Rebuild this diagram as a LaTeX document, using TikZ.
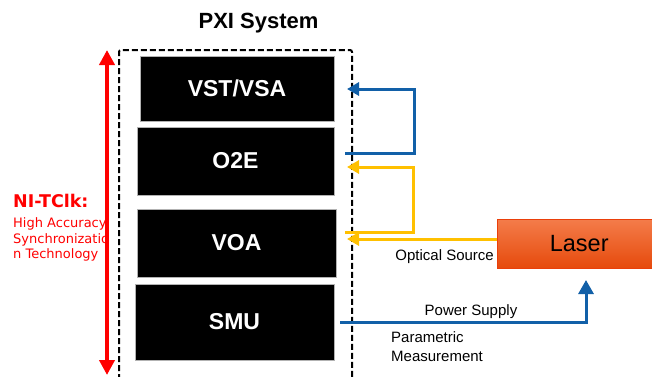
\documentclass[tikz,border=0pt]{standalone}
\usepackage{fontspec}
\setmainfont{Liberation Sans}
\newfontfamily\tclkfont{DejaVu Sans}
\usepackage{tikz}
\usetikzlibrary{positioning, calc, arrows.meta}
\definecolor{niBlue}{RGB}{18, 96, 168}
\definecolor{niYellow}{RGB}{255, 192, 0}
\definecolor{niRed}{RGB}{255, 0, 0}
\definecolor{laserTop}{RGB}{244, 124, 74}
\definecolor{laserBot}{RGB}{230, 74, 12}

\begin{document}
\begin{tikzpicture}[
    x=1pt, y=-1pt,
    module/.style={rectangle, draw=gray!60, fill=black, text=white, inner sep=0pt,
                   font=\fontsize{23}{26}\selectfont\bfseries},
    frame/.style={draw=black, line width=2pt, dash pattern=on 6pt off 3pt,
                  rounded corners=2pt},
    bluearrow/.style={-{Triangle[width=13pt, length=12pt]}, draw=niBlue, line width=3pt},
    yelarrow/.style={-{Triangle[width=13pt, length=12pt]}, draw=niYellow, line width=3pt},
    powerarrow/.style={-{Triangle[width=15pt, length=14pt]}, draw=niBlue, line width=3pt},
    syncarrow/.style={{Triangle[width=15pt, length=15pt]}-{Triangle[width=15pt, length=15pt]},
                      draw=niRed, line width=4.5pt},
    sigtext/.style={font=\fontsize{15}{19}\selectfont, inner sep=0pt, align=left},
    laserbox/.style={rectangle, top color=laserTop, bottom color=laserBot,
                     draw=laserBot!85!red, inner sep=0pt,
                     font=\fontsize{23.5}{26}\selectfont},
  ]
    \useasboundingbox (0,0) rectangle (652,376);

    % PXI chassis
    \node[font=\fontsize{22}{26}\selectfont\bfseries, anchor=base] (PXI) at (258.5,28.5) {PXI System};
    \draw[frame] (119,380) -- (119,50) -- (352,50) -- (352,380);
    \node[module, minimum width=194pt, minimum height=65pt] (VST) at (237,88.5) {VST/VSA};
    \node[module, minimum width=197pt, minimum height=68pt] (O2E) at (235.5,161) {O2E};
    \node[module, minimum width=199pt, minimum height=68pt] (VOA) at (236.5,243) {VOA};
    \node[module, minimum width=199pt, minimum height=76pt] (SMU) at (234.5,322) {SMU};

    % NI-TClk synchronization
    \draw[syncarrow] (107,50) -- (107,375);
    \node[font=\tclkfont\fontsize{17.5}{20}\selectfont\bfseries, text=niRed,
          inner sep=0pt, anchor=base west] (TClk) at (13,207) {NI-TClk:};
    \node[font=\tclkfont\fontsize{13}{15.5}\selectfont, text=niRed, align=left,
          inner sep=0pt, below=10pt of TClk.south west, anchor=north west] (TClkDesc)
      {High Accuracy\\Synchronizatio\\n Technology};

    % Laser source
    \node[laserbox, anchor=north west, minimum width=164pt, minimum height=49pt]
      (Laser) at (497,219) {Laser};

    % signal paths
    \coordinate (o2eOut) at (345,153);
    \coordinate (vstIn)  at (347,89);
    \coordinate (voaOut) at (345,232);
    \coordinate (o2eIn)  at (347,167);
    \coordinate (voaIn)  at (347,239);
    \coordinate (smuOut) at (340,322);
    \coordinate (laserIn) at (586,280);
    \draw[bluearrow] (o2eOut) -- ++(69,0) |- (vstIn);
    \draw[yelarrow] (voaOut) -- ++(68,0) |- (o2eIn);
    \draw[yelarrow] (Laser.west |- voaIn) -- (voaIn);
    \draw[powerarrow] (smuOut) -| (laserIn);

    \node[sigtext, anchor=base east] (OptLbl) at (494,260) {Optical Source};
    \node[sigtext, anchor=base] (PwrLbl) at (471,315) {Power Supply};
    \node[sigtext, anchor=north west] (ParLbl) at (391,331) {Parametric\\Measurement};
  \end{tikzpicture}
\end{document}
